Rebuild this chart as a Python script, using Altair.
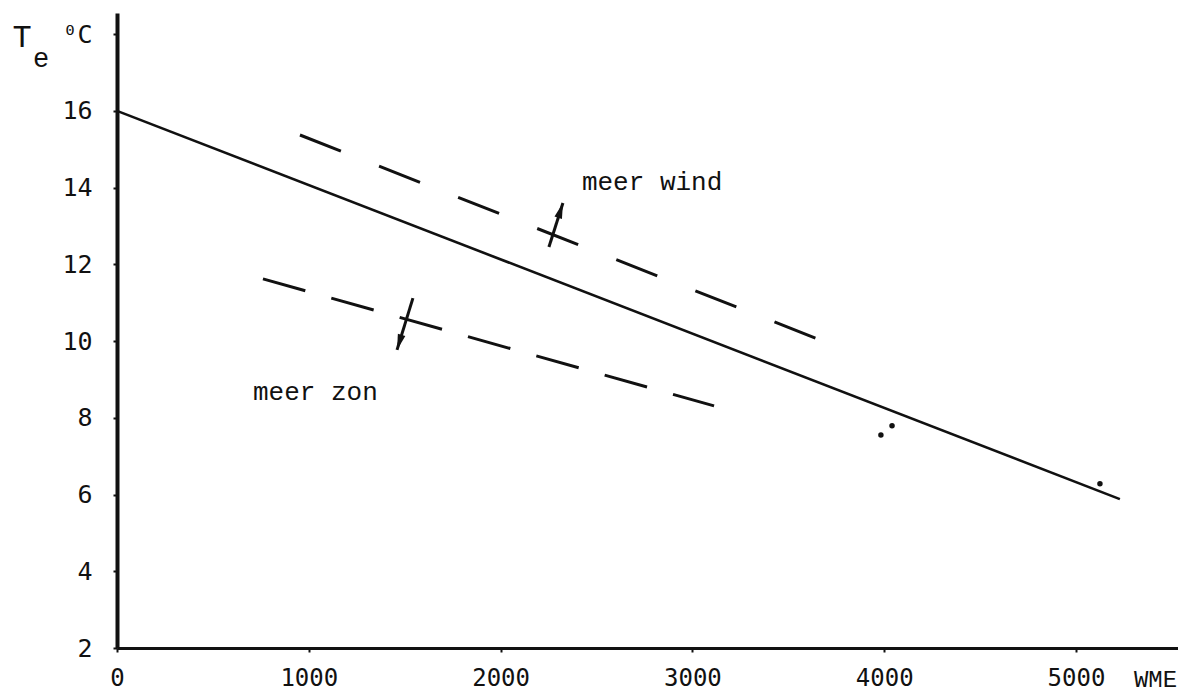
import altair as alt
import pandas as pd

# ---- data ----
x_ticks = [0, 1000, 2000, 3000, 4000, 5000]
y_ticks = [2, 4, 6, 8, 10, 12, 14, 16, 18]

# solid line
main_x = [0, 5229]
main_y = [16.0, 5.88]

# dashed line above ("meer wind")
wind_x = [954, 3650]
wind_y = [15.37, 10.06]

# dashed line below ("meer zon")
zon_x = [761, 3113]
zon_y = [11.62, 8.31]

# small dots
pt_x = [3983, 4041, 5125]
pt_y = [7.55, 7.79, 6.28]

# arrows (tail -> head)
arrow_x0 = [2252, 1543]
arrow_y0 = [12.45, 11.12]
arrow_x1 = [2325, 1460]
arrow_y1 = [13.60, 9.77]
arrow_angle = [17.6, 197.1]

# annotations
labels = ["meer wind", "meer zon"]
label_x = [2424, 709]
label_y = [13.94, 8.47]

INK = "#111111"
xs = alt.Scale(domain=[0, 5532], nice=False, zero=False)
ys = alt.Scale(domain=[2, 18.55], nice=False, zero=False)

x_axis = alt.Axis(values=x_ticks, format="d", labelFont="DejaVu Sans Mono",
                  labelFontSize=24, labelColor=INK, labelPadding=14,
                  labelFlush=False, labelOverlap=False,
                  tickSize=4, tickWidth=2, tickColor=INK,
                  domainColor=INK, domainWidth=3, grid=False,
                  title="WME", titleFont="Liberation Mono", titleFontSize=24,
                  titleFontWeight="normal", titleColor=INK,
                  titleX=1038, titleY=19, titleBaseline="top", titleAlign="center")
y_axis = alt.Axis(values=y_ticks,
                  labelExpr="datum.value == 18 ? '\u2070C' : datum.label",
                  labelFont="DejaVu Sans Mono", labelFontSize=25, labelColor=INK,
                  labelPadding=21, labelFlush=False, labelOverlap=False,
                  tickSize=4, tickWidth=2, tickColor=INK,
                  domainColor=INK, domainWidth=4, grid=False, title=None)


def X(f):
    return alt.X(f, type="quantitative", scale=xs, axis=x_axis)


def Y(f):
    return alt.Y(f, type="quantitative", scale=ys, axis=y_axis)


main_df = pd.DataFrame({"x": main_x, "y": main_y})
wind_df = pd.DataFrame({"x": wind_x, "y": wind_y})
zon_df = pd.DataFrame({"x": zon_x, "y": zon_y})
pt_df = pd.DataFrame({"x": pt_x, "y": pt_y})
arr_df = pd.DataFrame({"x0": arrow_x0, "y0": arrow_y0, "x1": arrow_x1,
                       "y1": arrow_y1, "ang": arrow_angle})
lab_df = pd.DataFrame({"x": label_x, "y": label_y, "t": labels})

main_line = alt.Chart(main_df).mark_line(color=INK, strokeWidth=2.6).encode(
    x=X("x"), y=Y("y"))
wind_line = alt.Chart(wind_df).mark_line(color=INK, strokeWidth=3,
                                         strokeDash=[44, 41]).encode(x=X("x"), y=Y("y"))
zon_line = alt.Chart(zon_df).mark_line(color=INK, strokeWidth=3,
                                       strokeDash=[44, 27]).encode(x=X("x"), y=Y("y"))
dots = alt.Chart(pt_df).mark_point(filled=True, color=INK, size=30, opacity=1).encode(
    x=X("x"), y=Y("y"))
shafts = alt.Chart(arr_df).mark_rule(color=INK, strokeWidth=3).encode(
    x=X("x0"), y=Y("y0"), x2="x1", y2="y1")
heads = alt.Chart(arr_df).mark_point(filled=True, color=INK, opacity=1, size=300,
                                     shape="M0,0 L0.45,1.8 L-0.45,1.8 Z").encode(
    x=X("x1"), y=Y("y1"), angle=alt.Angle("ang:Q", scale=None))
texts = alt.Chart(lab_df).mark_text(align="left", baseline="alphabetic",
                                    font="Liberation Mono", fontSize=26, color=INK).encode(
    x=X("x"), y=Y("y"), text="t:N")

t_df = pd.DataFrame({"t": ["T"]})
e_df = pd.DataFrame({"t": ["e"]})
t_mark = alt.Chart(t_df).mark_text(align="center", baseline="alphabetic",
                                   font="Liberation Mono", fontSize=32, color=INK).encode(
    x=alt.value(-95), y=alt.value(34), text="t:N")
e_mark = alt.Chart(e_df).mark_text(align="center", baseline="alphabetic",
                                   font="Liberation Mono", fontSize=27, color=INK).encode(
    x=alt.value(-76), y=alt.value(54), text="t:N")

chart = alt.layer(main_line, wind_line, zon_line, dots, shafts, heads, texts,
                  t_mark, e_mark).properties(
    width=1061, height=635,
    padding={"left": 109, "top": 5, "right": 0, "bottom": 45},
    autosize=alt.AutoSizeParams(type="none"),
    background="white",
).configure_view(stroke=None)

chart.save("out.html", embed_options={"renderer": "svg", "actions": False})
